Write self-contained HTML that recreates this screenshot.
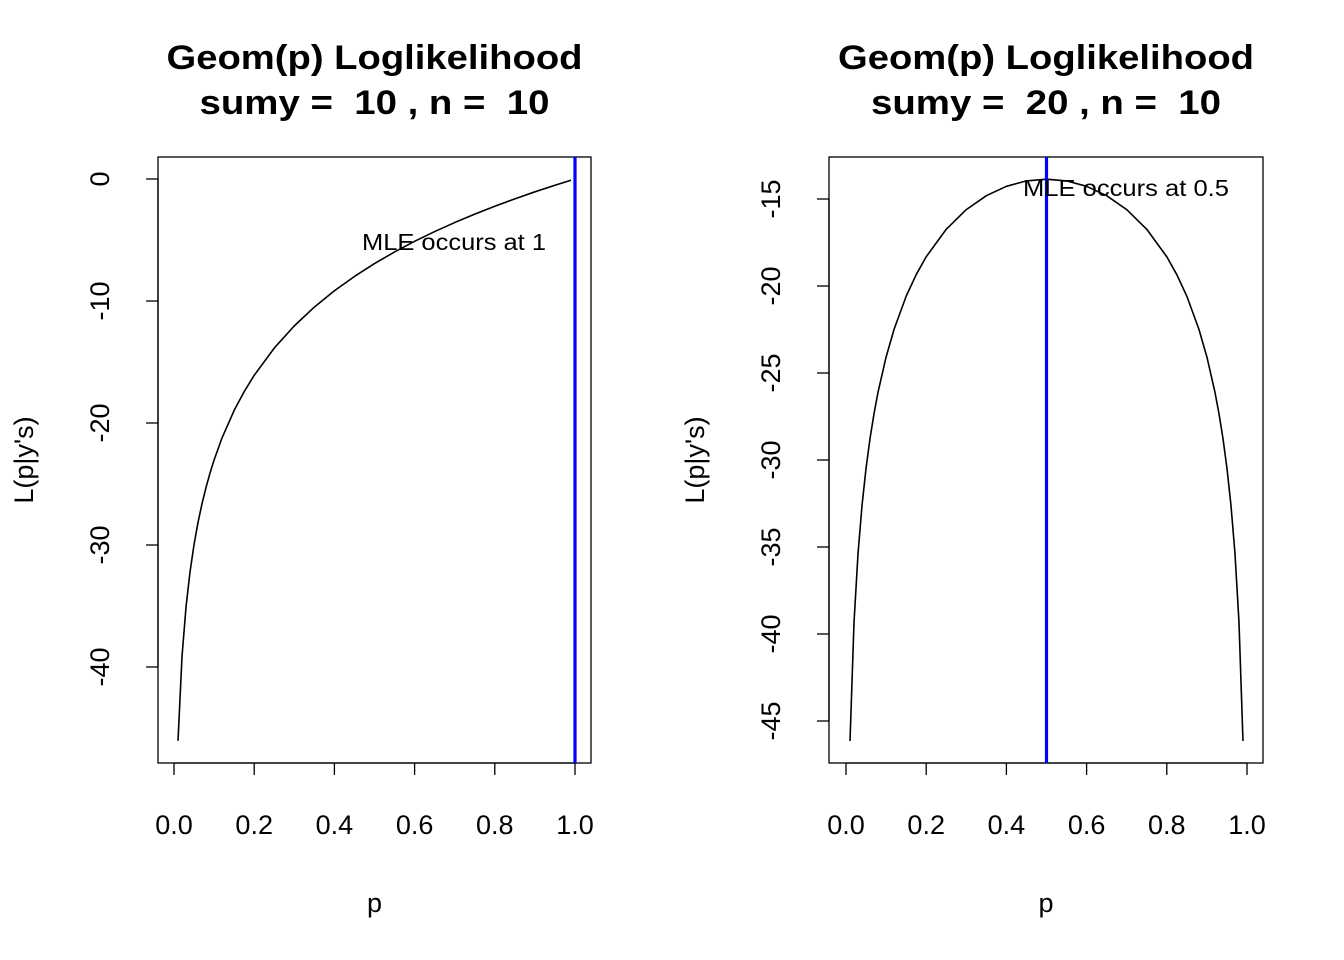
<!DOCTYPE html>
<html><head><meta charset="utf-8"><style>
html,body{margin:0;padding:0;background:#fff}
svg{display:block;font-family:"Liberation Sans",Arial,sans-serif}
text{white-space:pre}
</style></head><body>
<svg id="chart" width="1344" height="960" viewBox="0 0 1344 960"></svg>
<script>
const pValsL = [0.01,0.02,0.03,0.04,0.05,0.06,0.07,0.08,0.09,0.1,0.12,0.15,0.175,0.2,0.25,0.3,0.35,0.4,0.45,0.5,0.55,0.6,0.65,0.7,0.75,0.8,0.85,0.9,0.95,0.99];
const llValsL = [-46.05,-39.12,-35.07,-32.19,-29.96,-28.13,-26.59,-25.26,-24.08,-23.03,-21.20,-18.97,-17.43,-16.09,-13.86,-12.04,-10.50,-9.16,-7.99,-6.93,-5.98,-5.11,-4.31,-3.57,-2.88,-2.23,-1.63,-1.05,-0.51,-0.10];
const pValsR = [0.01,0.02,0.03,0.04,0.05,0.06,0.07,0.08,0.1,0.12,0.15,0.175,0.2,0.25,0.3,0.35,0.4,0.45,0.5,0.55,0.6,0.65,0.7,0.75,0.8,0.825,0.85,0.88,0.9,0.92,0.93,0.94,0.95,0.96,0.97,0.98,0.99];
const llValsR = [-46.15,-39.32,-35.37,-32.60,-30.47,-28.75,-27.32,-26.09,-24.08,-22.48,-20.59,-19.35,-18.32,-16.74,-15.61,-14.81,-14.27,-13.96,-13.86,-13.96,-14.27,-14.81,-15.61,-16.74,-18.32,-19.35,-20.59,-22.48,-24.08,-26.09,-27.32,-28.75,-30.47,-32.60,-35.37,-39.32,-46.15];
const xTicks = [0,0.2,0.4,0.6,0.8,1.0];
const xTickLabels = ["0.0","0.2","0.4","0.6","0.8","1.0"];
const yTicksL = [0,-10,-20,-30,-40];
const yTicksR = [-15,-20,-25,-30,-35,-40,-45];
const mleL = 1, mleR = 0.5;

const NS="http://www.w3.org/2000/svg";
const svg=document.getElementById('chart');
function mk(tag,attrs,parent){const e=document.createElementNS(NS,tag);for(const k in attrs)e.setAttribute(k,attrs[k]);(parent||svg).appendChild(e);return e;}

function panel(cfg){
  const g=mk('g',{});
  
  
  const sx=v=>cfg.x0+(v)*(cfg.x1-cfg.x0);
  const sy=v=>cfg.yA+(v-cfg.vA)*(cfg.yB-cfg.yA)/(cfg.vB-cfg.vA);
  const box=mk('rect',{x:cfg.bx0,y:157,width:cfg.bx1-cfg.bx0,height:606,fill:'none',stroke:'#000','stroke-width':1.3},g);
  
  
  [[cfg.t1,416],[cfg.t2,350]].forEach((t,i)=>{
    const e=mk('text',{x:(cfg.bx0+cfg.bx1)/2,y:i?114:69,'text-anchor':'middle','font-size':34,'font-weight':'bold',textLength:t[1],lengthAdjust:'spacingAndGlyphs'},g);
    e.textContent=t[0];
    
    
  });
  mk('line',{x1:sx(0),x2:sx(1),y1:763,y2:763,stroke:'#000','stroke-width':1.3},g);
  xTicks.forEach((v,i)=>{
    mk('line',{x1:sx(v),x2:sx(v),y1:763,y2:775,stroke:'#000','stroke-width':1.3},g);
    const t=mk('text',{x:sx(v),y:834,'text-anchor':'middle','font-size':27},g);
    t.textContent=xTickLabels[i];
    
    
  });
  const xt=mk('text',{x:(cfg.bx0+cfg.bx1)/2,y:912,'text-anchor':'middle','font-size':27},g);
  xt.textContent='p';
  
  
  const yt=cfg.yTicks;
  mk('line',{x1:cfg.bx0,x2:cfg.bx0,y1:sy(yt[0]),y2:sy(yt[yt.length-1]),stroke:'#000','stroke-width':1.3},g);
  yt.forEach(v=>{
    const y=sy(v);
    mk('line',{x1:cfg.bx0-12,x2:cfg.bx0,y1:y,y2:y,stroke:'#000','stroke-width':1.3},g);
    const t=mk('text',{x:cfg.bx0-49,y:y,'text-anchor':'middle','font-size':27,transform:`rotate(-90 ${cfg.bx0-49} ${y})`},g);
    t.textContent=String(v);
    
    
  });
  const ya=mk('text',{x:cfg.bx0-125,y:460,'text-anchor':'middle','font-size':27,transform:`rotate(-90 ${cfg.bx0-125} 460)`},g);
  ya.textContent="L(p|y's)";
  
  
  const d=cfg.p.map((p,i)=>(i?'L':'M')+sx(p).toFixed(2)+' '+sy(cfg.ll[i]).toFixed(2)).join(' ');
  const c=mk('path',{d:d,fill:'none',stroke:'#000','stroke-width':1.6,'stroke-linejoin':'round'},g);
  
  
  const m=mk('line',{x1:sx(cfg.mle),x2:sx(cfg.mle),y1:157,y2:763,stroke:'#0000ff','stroke-width':3.2},g);
  
  
  const lab=mk('text',{x:cfg.labX,y:cfg.labY,'text-anchor':'middle','font-size':23,textLength:cfg.labW,lengthAdjust:'spacingAndGlyphs'},g);
  lab.textContent=cfg.lab;
  
  
}
panel({name:'left-panel',bx0:158,bx1:591,x0:174,x1:575,yA:179,vA:0,yB:667,vB:-40,yTicks:yTicksL,p:pValsL,ll:llValsL,mle:mleL,
  t1:'Geom(p) Loglikelihood',t2:'sumy =  10 , n =  10',lab:'MLE occurs at 1',labX:454,labY:250,labW:184});
panel({name:'right-panel',bx0:829,bx1:1263,x0:846,x1:1247,yA:199,vA:-15,yB:721,vB:-45,yTicks:yTicksR,p:pValsR,ll:llValsR,mle:mleR,
  t1:'Geom(p) Loglikelihood',t2:'sumy =  20 , n =  10',lab:'MLE occurs at 0.5',labX:1126,labY:196,labW:206});
</script>
</body></html>
